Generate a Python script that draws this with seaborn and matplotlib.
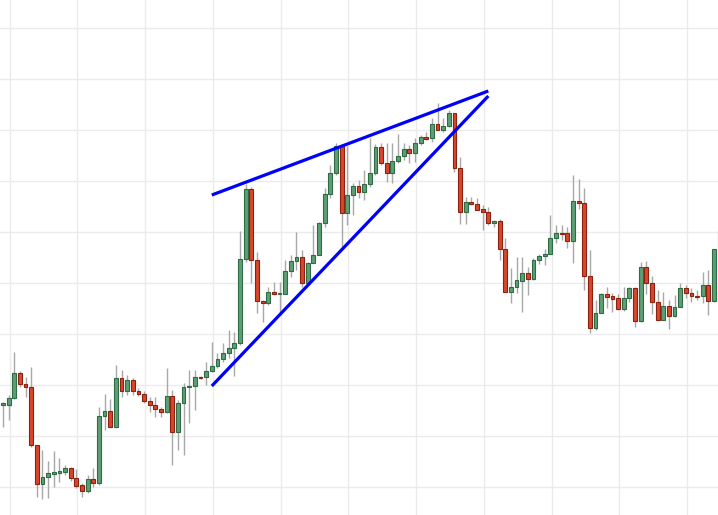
import numpy as np
import pandas as pd
import matplotlib
matplotlib.use("Agg")
import matplotlib.pyplot as plt
import seaborn as sns

# ---- data (price levels) ----
opens = [110, 110, 117, 142, 131, 128, 70, 31, 38, 41, 42, 43, 47, 37, 30, 24, 36, 32, 99, 104,
         88, 137, 124, 135, 124, 121, 114, 110, 106, 103, 119, 83, 112, 128, 129, 138, 138, 144, 149, 156,
         162, 167, 172, 256, 326, 255, 214, 212, 223, 221, 221, 244, 254, 258, 232, 252, 260, 292, 321, 342,
         369, 302, 320, 329, 323, 331, 342, 368, 352, 342, 354, 359, 366, 362, 372, 378, 377, 391, 385, 389,
         402, 347, 303, 313, 311, 306, 303, 292, 294, 266, 223, 228, 234, 242, 236, 255, 259, 261, 277, 282,
         282, 274, 314, 312, 239, 187, 202, 221, 219, 217, 206, 217, 227, 194, 248, 232, 213, 195, 209, 199,
         208, 227, 222, 219, 219, 230, 214, 265]
closes = [112, 117, 142, 131, 128, 70, 31, 38, 42, 43, 44, 47, 37, 29, 24, 36, 32, 99, 104, 88,
          137, 124, 135, 124, 121, 114, 110, 106, 103, 119, 83, 112, 128, 129, 138, 137, 144, 149, 156, 162,
          167, 172, 256, 326, 255, 214, 212, 223, 221, 222, 244, 254, 258, 232, 252, 260, 292, 321, 342, 369,
          302, 320, 329, 323, 331, 342, 368, 352, 342, 354, 359, 366, 362, 372, 378, 376, 391, 385, 389, 402,
          347, 303, 313, 311, 305, 303, 292, 294, 266, 223, 228, 235, 242, 236, 255, 259, 261, 277, 282, 281,
          274, 314, 312, 239, 187, 202, 221, 218, 216, 206, 217, 227, 194, 248, 232, 213, 195, 209, 199, 208,
          227, 222, 219, 218, 230, 214, 266, 284]
highs = [113, 120, 163, 144, 138, 148, 70, 65, 54, 64, 57, 50, 48, 46, 32, 40, 47, 108, 121, 116,
         150, 145, 140, 137, 127, 124, 118, 118, 108, 147, 125, 115, 132, 145, 145, 139, 153, 173, 162, 172,
         185, 183, 284, 331, 328, 263, 215, 228, 233, 233, 255, 260, 283, 265, 253, 290, 293, 327, 350, 372,
         371, 369, 332, 335, 345, 377, 371, 372, 372, 372, 381, 372, 370, 377, 380, 383, 397, 412, 397, 405,
         402, 358, 318, 318, 317, 310, 308, 295, 296, 277, 247, 258, 258, 248, 257, 261, 266, 300, 290, 290,
         288, 340, 336, 327, 265, 215, 222, 228, 222, 221, 228, 228, 228, 253, 254, 239, 225, 223, 215, 220,
         232, 230, 227, 225, 243, 245, 266, 290]
lows = [88, 95, 116, 128, 118, 68, 18, 16, 17, 28, 33, 40, 34, 27, 18, 22, 28, 30, 85, 88,
        87, 118, 120, 120, 119, 112, 103, 98, 98, 102, 50, 65, 60, 92, 105, 136, 130, 143, 147, 153,
        157, 139, 170, 253, 232, 202, 193, 210, 220, 202, 221, 238, 245, 228, 230, 252, 260, 288, 317, 340,
        268, 290, 300, 317, 315, 328, 340, 350, 333, 332, 352, 355, 352, 353, 370, 375, 373, 385, 383, 388,
        343, 291, 291, 310, 305, 285, 290, 288, 255, 223, 212, 222, 203, 220, 235, 251, 250, 261, 272, 275,
        267, 252, 306, 225, 182, 185, 202, 207, 203, 205, 204, 213, 188, 193, 221, 201, 195, 195, 186, 198,
        208, 217, 213, 215, 212, 200, 213, 262]

# wedge trend lines (candle index, price)
trend_x = [37.0, 86.0]
upper_line = [320, 424]
lower_line = [129, 419]

grid_x = [1.2 + 12 * k for k in range(11)]
grid_y = [28 + 51 * k for k in range(10)]

df = pd.DataFrame({"o": opens, "h": highs, "l": lows, "c": closes})
df["i"] = np.arange(len(df))
df["up"] = df["c"] >= df["o"]

sns.set_theme(style="white")
fig = plt.figure(figsize=(7.18, 5.15), dpi=100)
ax = fig.add_axes([0, 0, 1, 1])

for gx in grid_x:
    ax.axvline(gx, color="#ebebeb", lw=1.0, zorder=0)
for gy in grid_y:
    ax.axhline(gy, color="#ebebeb", lw=1.0, zorder=0)

# wicks
ax.vlines(df["i"], df["l"], df["h"], color="#a8a8a8", lw=1.0, zorder=1)

green_face, green_edge = "#5e9e74", "#2f6b45"
red_face, red_edge = "#d8472c", "#8c2110"
bottoms = np.minimum(df["o"], df["c"])
heights = np.maximum(np.abs(df["c"] - df["o"]), 1.5)
faces = [green_face if u else red_face for u in df["up"]]
edges = [green_edge if u else red_edge for u in df["up"]]
ax.bar(df["i"], heights, bottom=bottoms, width=0.68, color=faces,
       edgecolor=edges, linewidth=0.8, zorder=2)

tl = pd.DataFrame({"x": trend_x * 2, "y": upper_line + lower_line,
                   "line": ["upper"] * 2 + ["lower"] * 2})
sns.lineplot(data=tl, x="x", y="y", units="line", estimator=None,
             color="#0000ff", lw=2.3, ax=ax, zorder=3, solid_capstyle="butt")

ax.set_xlim(-0.53, 126.7)
ax.set_ylim(0, 515)
ax.set_xticks([])
ax.set_yticks([])
ax.set_xlabel("")
ax.set_ylabel("")
for s in ax.spines.values():
    s.set_visible(False)

fig.savefig("out.png", dpi=100)
